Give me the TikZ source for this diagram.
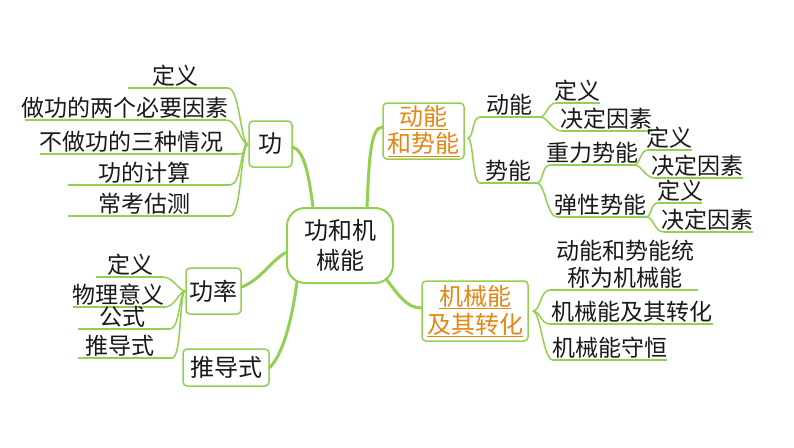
\documentclass[tikz,border=0pt]{standalone}
\usepackage{fontspec}
\setmainfont{Noto Sans CJK SC}
\usetikzlibrary{calc}
\definecolor{lg}{RGB}{146,208,80}
\definecolor{og}{RGB}{228,134,20}
\definecolor{tx}{RGB}{25,25,25}
\tikzset{
  leaf/.style={anchor=base, inner sep=0pt, font=\fontsize{23}{27}\selectfont, text=tx},
  box/.style={draw=lg, line width=1.5pt, rounded corners=4pt, fill=white, inner sep=0pt, text=tx, font=\fontsize{24}{28}\selectfont},
  ul/.style={draw=lg, line width=1.5pt},
  mainc/.style={draw=lg, line width=3pt, line cap=round}
}
\newcommand{\mkleaf}[6]{%
  \node[leaf] (#1) at (#2,#3-4) {#6};
  \coordinate (#1l) at (#4,#3);
  \coordinate (#1r) at (#5,#3);
  \draw[ul] (#1l) -- (#1r);}
\begin{document}
\begin{tikzpicture}[x=1pt,y=-1pt]
\useasboundingbox[fill=white] (0,0) rectangle (794,447);

% boxes
\node[box, rounded corners=18pt, line width=2pt, minimum width=106pt, minimum height=75pt, align=center, font=\fontsize{24}{30}\selectfont] (c) at (340,245.5) {功和机\\械能};
\node[box, minimum width=43pt, minimum height=46pt] (g) at (270.5,144) {功};
\node[box, minimum width=55pt, minimum height=46pt] (gl) at (213.5,291) {功率};
\node[box, minimum width=86pt, minimum height=37pt] (td) at (226,367.5) {推导式};
\node[box, minimum width=81pt, minimum height=56pt, align=center, text=og, font=\fontsize{24}{27}\selectfont] (dn) at (423.5,131) {\underline{动能}\\\underline{和势能}};
\node[box, minimum width=106pt, minimum height=60pt, align=center, text=og, font=\fontsize{24}{28}\selectfont] (jx) at (475,311) {\underline{机械能}\\\underline{及其转化}};

% main connectors
\draw[mainc] ($(g.east)+(0,3)$) .. controls +(12,4) and +(-4,-30) .. ($(c.north)+(-27,0)$);
\draw[mainc] ($(gl.east)+(0,-4)$) .. controls +(20,-8) and +(-15,8) .. ($(c.west)+(0,7)$);
\draw[mainc] (td.east) .. controls +(15,-15) and +(-4,30) .. ($(c.south)+(-43,-2)$);
\draw[mainc] ($(c.north)+(27,0)$) .. controls +(2,-45) and +(-12,0) .. ($(dn.west)+(0,-4)$);
\draw[mainc] ($(c.south east)+(-8,-5)$) .. controls +(12,15) and +(-15,0) .. ($(jx.west)+(0,-3)$);

% left of gong
\mkleaf{a1}{175}{88}{128}{228}{定义}
\mkleaf{a2}{125}{120}{25}{226}{做功的两个必要因素}
\mkleaf{a3}{131}{154}{40}{238}{不做功的三种情况}
\mkleaf{a4}{144}{185}{68}{230}{功的计算}
\mkleaf{a5}{144}{216}{68}{230}{常考估测}
\foreach \n in {a1,a2,a3,a4,a5}
  \draw[ul] (\n r) .. controls +(12,0) and +(-8,0) .. (g.west);

% left of gonglv
\mkleaf{p1}{130}{277}{96}{163}{定义}
\mkleaf{p2}{118}{307}{73}{165}{物理意义}
\mkleaf{p3}{122}{329}{78}{170}{公式}
\mkleaf{p4}{120}{358}{78}{172}{推导式}
\foreach \n in {p1,p2,p3,p4}
  \draw[ul] (\n r) .. controls +(10,0) and +(-6,0) .. (gl.west);

% right of dongneng he shineng
\coordinate (dnR) at ($(dn.east)+(3,7)$);
\mkleaf{dk}{509.5}{117}{480}{540}{动能}
\mkleaf{dka}{577}{103}{556}{600}{定义}
\mkleaf{dkb}{606}{131}{562}{652}{决定因素}
\mkleaf{sn}{508}{183}{480}{537}{势能}
\mkleaf{zl}{592}{165}{550}{634}{重力势能}
\mkleaf{zla}{669}{150}{648}{692}{定义}
\mkleaf{zlb}{697}{178}{655}{743}{决定因素}
\mkleaf{tx}{600}{217}{557}{646}{弹性势能}
\mkleaf{txa}{680}{203}{658}{702}{定义}
\mkleaf{txb}{707}{232}{664}{753}{决定因素}
\draw[ul] (dnR) .. controls +(6,0) and +(-8,0) .. (dkl);
\draw[ul] (dnR) .. controls +(6,0) and +(-8,0) .. (snl);
\draw[ul] (dkr) .. controls +(6,0) and +(-8,0) .. (dkal);
\draw[ul] (dkr) .. controls +(8,0) and +(-10,0) .. (dkbl);
\draw[ul] (snr) .. controls +(6,0) and +(-8,0) .. (zll);
\draw[ul] (snr) .. controls +(8,0) and +(-10,0) .. (txl);
\draw[ul] (zlr) .. controls +(6,0) and +(-8,0) .. (zlal);
\draw[ul] (zlr) .. controls +(8,0) and +(-10,0) .. (zlbl);
\draw[ul] (txr) .. controls +(6,0) and +(-8,0) .. (txal);
\draw[ul] (txr) .. controls +(8,0) and +(-10,0) .. (txbl);

% right of jixieneng
\coordinate (jxR) at ($(jx.east)+(4,0)$);
\node[leaf, align=center, anchor=south] (m1) at (625,289) {动能和势能统\\称为机械能};
\coordinate (m1l) at (550,290);
\coordinate (m1r) at (698,290);
\draw[ul] (m1l) -- (m1r);
\mkleaf{m2}{632}{324}{550}{713}{机械能及其转化}
\mkleaf{m3}{610}{360}{553}{667}{机械能守恒}
\draw[ul] (jxR) .. controls +(8,0) and +(-10,0) .. (m1l);
\draw[ul] (jxR) .. controls +(8,0) and +(-10,0) .. (m2l);
\draw[ul] (jxR) .. controls +(8,0) and +(-10,0) .. (m3l);
\end{tikzpicture}
\end{document}
